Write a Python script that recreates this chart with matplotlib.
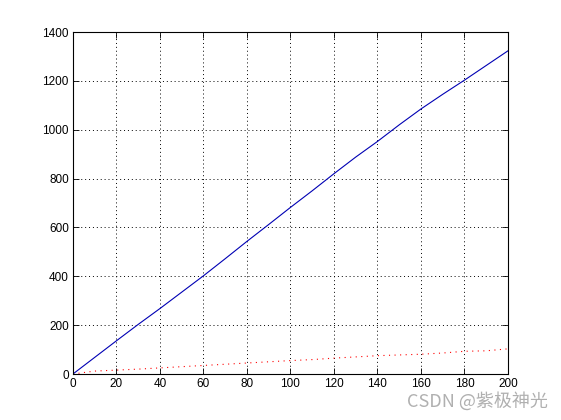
import matplotlib
matplotlib.use('Agg')
import matplotlib.pyplot as plt

# values
x_vals = [0, 10, 20, 30, 40, 50, 60, 70, 80, 90, 100,
          110, 120, 130, 140, 150, 160, 170, 180, 190, 200]
blue_vals = [0, 68, 136, 203, 268, 335, 402, 472, 543, 612, 682,
             750, 820, 888, 952, 1020, 1085, 1145, 1203, 1263, 1323]
red_vals = [0, 12, 16, 20, 25, 30, 35, 40, 45, 50, 55,
            59, 65, 70, 75, 78, 81, 86, 93, 95, 103]
x_ticks = list(range(0, 201, 20))
y_ticks = list(range(0, 1401, 200))

plt.rcParams['font.family'] = ['Liberation Sans', 'DejaVu Sans']

fig = plt.figure(figsize=(5.61, 4.2), dpi=100)
ax = fig.add_axes([0.130, 0.1095, 0.7755, 0.8143])

ax.plot(x_vals, blue_vals, color='#0000b4', lw=0.8)
ax.plot(x_vals, red_vals, color='red', lw=0.8, ls=(0, (1, 4)))

ax.set_xlim(0, 200)
ax.set_ylim(0, 1400)
ax.set_xticks(x_ticks)
ax.set_yticks(y_ticks)
ax.tick_params(direction='in', top=True, right=True, labelsize=8.5,
               length=4, width=0.6, pad=3)
ax.grid(True, color='black', ls=(0, (1, 3)), lw=0.7)
for s in ax.spines.values():
    s.set_linewidth(0.8)

fig.text(0.977, 0.022, 'CSDN @紫极神光', ha='right', va='bottom',
         fontsize=13, color='#b0b0b0',
         family=['Noto Sans CJK SC', 'DejaVu Sans'])

fig.savefig('out.png', dpi=100)
